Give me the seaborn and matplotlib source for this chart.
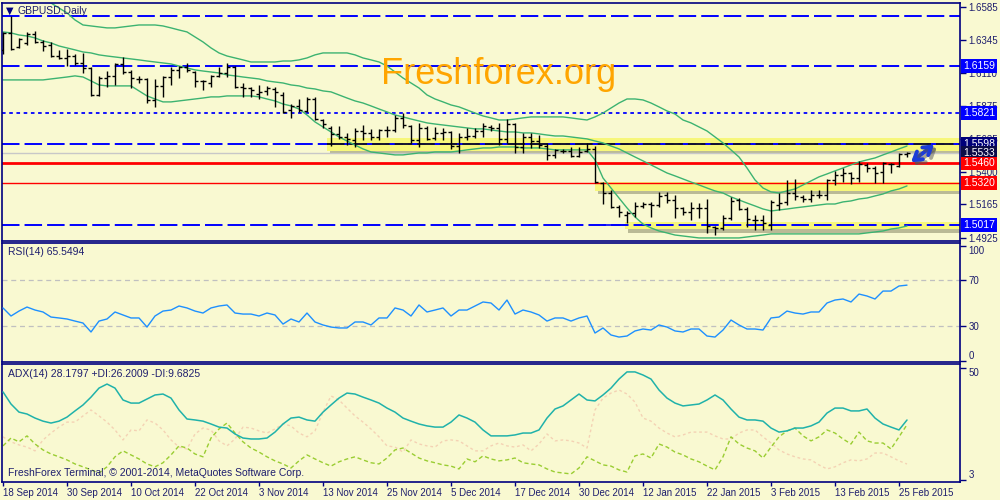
import numpy as np
import matplotlib
matplotlib.use("Agg")
import matplotlib.pyplot as plt
import seaborn as sns
from matplotlib.patches import Rectangle
import matplotlib.patheffects as pe

# ---------------- data ----------------
date_labels = ["18 Sep 2014", "30 Sep 2014", "10 Oct 2014", "22 Oct 2014", "3 Nov 2014",
               "13 Nov 2014", "25 Nov 2014", "5 Dec 2014", "17 Dec 2014", "30 Dec 2014",
               "12 Jan 2015", "22 Jan 2015", "3 Feb 2015", "13 Feb 2015", "25 Feb 2015"]

open_ = [1.6276, 1.6397, 1.6297, 1.6325, 1.6390, 1.6333, 1.6311, 1.6233, 1.6218, 1.6233,
         1.6182, 1.6146, 1.5952, 1.6074, 1.6089, 1.6175, 1.6118, 1.6067, 1.6067, 1.5916,
         1.6017, 1.6082, 1.6132, 1.6154, 1.6118, 1.6053, 1.6038, 1.6089, 1.6110, 1.6154,
         1.6010, 1.6002, 1.5959, 1.5981, 1.5995, 1.5952, 1.5844, 1.5873, 1.5837, 1.5923,
         1.5772, 1.5714, 1.5671, 1.5650, 1.5628, 1.5693, 1.5678, 1.5650, 1.5700, 1.5700,
         1.5786, 1.5729, 1.5628, 1.5714, 1.5642, 1.5678, 1.5685, 1.5585, 1.5650, 1.5657,
         1.5693, 1.5722, 1.5714, 1.5635, 1.5743, 1.5578, 1.5650, 1.5621, 1.5585, 1.5521,
         1.5549, 1.5549, 1.5514, 1.5549, 1.5564, 1.5319, 1.5247, 1.5147, 1.5089, 1.5103,
         1.5154, 1.5168, 1.5161, 1.5233, 1.5197, 1.5140, 1.5111, 1.5140, 1.5140, 1.5003,
         1.4996, 1.5067, 1.5197, 1.5132, 1.5053, 1.5053, 1.5017, 1.5161, 1.5183, 1.5247,
         1.5219, 1.5204, 1.5233, 1.5233, 1.5341, 1.5377, 1.5391, 1.5355, 1.5449, 1.5427,
         1.5398, 1.5456, 1.5442, 1.5528]
high = [1.6405, 1.6520, 1.6361, 1.6405, 1.6412, 1.6347, 1.6333, 1.6276, 1.6283, 1.6247,
        1.6254, 1.6154, 1.6089, 1.6125, 1.6182, 1.6226, 1.6132, 1.6089, 1.6074, 1.6067,
        1.6089, 1.6154, 1.6161, 1.6182, 1.6125, 1.6060, 1.6096, 1.6154, 1.6182, 1.6161,
        1.6038, 1.6010, 1.6024, 1.6017, 1.6010, 1.5974, 1.5887, 1.5923, 1.5938, 1.5938,
        1.5779, 1.5729, 1.5729, 1.5678, 1.5714, 1.5736, 1.5707, 1.5707, 1.5729, 1.5808,
        1.5822, 1.5736, 1.5750, 1.5729, 1.5722, 1.5714, 1.5693, 1.5678, 1.5714, 1.5714,
        1.5750, 1.5736, 1.5750, 1.5779, 1.5750, 1.5678, 1.5678, 1.5664, 1.5607, 1.5564,
        1.5564, 1.5578, 1.5578, 1.5607, 1.5585, 1.5326, 1.5269, 1.5161, 1.5118, 1.5183,
        1.5183, 1.5183, 1.5255, 1.5255, 1.5233, 1.5147, 1.5183, 1.5175, 1.5204, 1.5010,
        1.5089, 1.5219, 1.5211, 1.5147, 1.5089, 1.5089, 1.5197, 1.5247, 1.5341, 1.5348,
        1.5233, 1.5269, 1.5269, 1.5348, 1.5406, 1.5427, 1.5398, 1.5478, 1.5463, 1.5442,
        1.5470, 1.5463, 1.5535, 1.5542]
low = [1.6247, 1.6276, 1.6290, 1.6311, 1.6325, 1.6269, 1.6226, 1.6211, 1.6161, 1.6168,
       1.6110, 1.5945, 1.5945, 1.6010, 1.6024, 1.6103, 1.6002, 1.6038, 1.5894, 1.5866,
       1.5938, 1.6024, 1.6074, 1.6118, 1.6010, 1.5988, 1.6010, 1.6082, 1.6082, 1.6002,
       1.5938, 1.5938, 1.5923, 1.5952, 1.5866, 1.5822, 1.5786, 1.5830, 1.5830, 1.5772,
       1.5714, 1.5585, 1.5635, 1.5592, 1.5578, 1.5628, 1.5628, 1.5628, 1.5650, 1.5685,
       1.5714, 1.5607, 1.5578, 1.5628, 1.5628, 1.5628, 1.5564, 1.5535, 1.5628, 1.5642,
       1.5650, 1.5693, 1.5592, 1.5607, 1.5535, 1.5535, 1.5571, 1.5571, 1.5485, 1.5499,
       1.5535, 1.5506, 1.5506, 1.5542, 1.5319, 1.5168, 1.5140, 1.5075, 1.5032, 1.5075,
       1.5140, 1.5075, 1.5147, 1.5175, 1.5067, 1.5089, 1.5053, 1.5067, 1.4960, 1.4945,
       1.4981, 1.5053, 1.5125, 1.5003, 1.4981, 1.4981, 1.4981, 1.5125, 1.5161, 1.5197,
       1.5183, 1.5183, 1.5211, 1.5197, 1.5305, 1.5326, 1.5312, 1.5326, 1.5398, 1.5319,
       1.5319, 1.5391, 1.5434, 1.5506]
close = [1.6397, 1.6283, 1.6354, 1.6390, 1.6333, 1.6304, 1.6233, 1.6218, 1.6233, 1.6182,
         1.6146, 1.5952, 1.6074, 1.6089, 1.6175, 1.6118, 1.6074, 1.6067, 1.5916, 1.6017,
         1.6082, 1.6132, 1.6154, 1.6132, 1.6053, 1.6053, 1.6089, 1.6110, 1.6154, 1.6010,
         1.6002, 1.5988, 1.5974, 1.6002, 1.5974, 1.5830, 1.5873, 1.5844, 1.5923, 1.5779,
         1.5743, 1.5671, 1.5650, 1.5635, 1.5693, 1.5678, 1.5650, 1.5700, 1.5700, 1.5786,
         1.5736, 1.5628, 1.5714, 1.5635, 1.5678, 1.5685, 1.5585, 1.5650, 1.5657, 1.5693,
         1.5729, 1.5714, 1.5635, 1.5743, 1.5578, 1.5650, 1.5621, 1.5592, 1.5521, 1.5557,
         1.5549, 1.5514, 1.5542, 1.5564, 1.5326, 1.5247, 1.5147, 1.5111, 1.5103, 1.5154,
         1.5168, 1.5161, 1.5226, 1.5197, 1.5140, 1.5111, 1.5140, 1.5140, 1.5010, 1.4996,
         1.5067, 1.5190, 1.5132, 1.5060, 1.5053, 1.5032, 1.5183, 1.5175, 1.5247, 1.5226,
         1.5204, 1.5233, 1.5233, 1.5341, 1.5377, 1.5391, 1.5355, 1.5456, 1.5427, 1.5391,
         1.5463, 1.5456, 1.5528, 1.5533]

bb_upper = [1.6815, 1.6786, 1.6750, 1.6721, 1.6685, 1.6649, 1.6613, 1.6577, 1.6542, 1.6491,
            1.6455, 1.6448, 1.6441, 1.6434, 1.6434, 1.6441, 1.6448, 1.6455, 1.6455, 1.6455,
            1.6448, 1.6434, 1.6419, 1.6405, 1.6369, 1.6333, 1.6290, 1.6254, 1.6232, 1.6218,
            1.6204, 1.6189, 1.6189, 1.6189, 1.6189, 1.6196, 1.6196, 1.6204, 1.6218, 1.6240,
            1.6254, 1.6254, 1.6254, 1.6254, 1.6240, 1.6218, 1.6204, 1.6189, 1.6160, 1.6117,
            1.6074, 1.6038, 1.6002, 1.5952, 1.5923, 1.5902, 1.5880, 1.5866, 1.5844, 1.5822,
            1.5801, 1.5787, 1.5772, 1.5772, 1.5779, 1.5787, 1.5794, 1.5794, 1.5794, 1.5794,
            1.5794, 1.5787, 1.5779, 1.5772, 1.5794, 1.5822, 1.5858, 1.5894, 1.5923, 1.5923,
            1.5916, 1.5894, 1.5866, 1.5837, 1.5815, 1.5772, 1.5751, 1.5722, 1.5693, 1.5650,
            1.5607, 1.5557, 1.5506, 1.5427, 1.5341, 1.5283, 1.5255, 1.5247, 1.5262, 1.5276,
            1.5305, 1.5334, 1.5363, 1.5384, 1.5406, 1.5427, 1.5449, 1.5470, 1.5485, 1.5499,
            1.5521, 1.5542, 1.5564, 1.5585]
bb_mid = [1.6405, 1.6398, 1.6383, 1.6376, 1.6362, 1.6340, 1.6326, 1.6304, 1.6290, 1.6276,
          1.6261, 1.6254, 1.6240, 1.6232, 1.6225, 1.6218, 1.6211, 1.6204, 1.6196, 1.6189,
          1.6182, 1.6175, 1.6160, 1.6146, 1.6132, 1.6124, 1.6117, 1.6110, 1.6096, 1.6089,
          1.6081, 1.6074, 1.6067, 1.6053, 1.6045, 1.6038, 1.6024, 1.6017, 1.6002, 1.5995,
          1.5981, 1.5974, 1.5952, 1.5930, 1.5909, 1.5894, 1.5873, 1.5851, 1.5830, 1.5808,
          1.5794, 1.5779, 1.5765, 1.5751, 1.5743, 1.5736, 1.5729, 1.5722, 1.5715, 1.5708,
          1.5708, 1.5700, 1.5693, 1.5686, 1.5686, 1.5679, 1.5679, 1.5672, 1.5664, 1.5657,
          1.5657, 1.5650, 1.5643, 1.5636, 1.5621, 1.5607, 1.5585, 1.5564, 1.5535, 1.5506,
          1.5478, 1.5449, 1.5420, 1.5391, 1.5370, 1.5348, 1.5326, 1.5305, 1.5283, 1.5262,
          1.5247, 1.5219, 1.5197, 1.5175, 1.5154, 1.5132, 1.5118, 1.5125, 1.5132, 1.5140,
          1.5147, 1.5154, 1.5161, 1.5168, 1.5168, 1.5183, 1.5190, 1.5204, 1.5211, 1.5226,
          1.5240, 1.5262, 1.5276, 1.5298]
bb_lower = [1.6060, 1.6060, 1.6060, 1.6060, 1.6060, 1.6060, 1.6067, 1.6074, 1.6081, 1.6089,
            1.6081, 1.6053, 1.6024, 1.6017, 1.6017, 1.6017, 1.6017, 1.5981, 1.5945, 1.5923,
            1.5902, 1.5902, 1.5909, 1.5916, 1.5923, 1.5930, 1.5938, 1.5938, 1.5945, 1.5945,
            1.5945, 1.5945, 1.5938, 1.5923, 1.5909, 1.5887, 1.5873, 1.5851, 1.5808, 1.5758,
            1.5722, 1.5686, 1.5650, 1.5621, 1.5592, 1.5564, 1.5542, 1.5535, 1.5528, 1.5521,
            1.5521, 1.5528, 1.5535, 1.5535, 1.5542, 1.5542, 1.5542, 1.5549, 1.5557, 1.5564,
            1.5571, 1.5571, 1.5578, 1.5578, 1.5578, 1.5571, 1.5571, 1.5571, 1.5564, 1.5557,
            1.5557, 1.5557, 1.5557, 1.5557, 1.5485, 1.5355, 1.5283, 1.5211, 1.5140, 1.5075,
            1.5024, 1.4996, 1.4974, 1.4960, 1.4945, 1.4938, 1.4931, 1.4924, 1.4924, 1.4924,
            1.4924, 1.4924, 1.4924, 1.4931, 1.4938, 1.4945, 1.4953, 1.4953, 1.4953, 1.4953,
            1.4953, 1.4953, 1.4953, 1.4953, 1.4953, 1.4953, 1.4953, 1.4953, 1.4960, 1.4967,
            1.4974, 1.4988, 1.4996, 1.5010]

rsi = [45.7, 38.7, 43.0, 46.5, 43.9, 42.2, 37.8, 37.0, 36.1, 34.3,
       32.6, 24.8, 34.3, 36.1, 42.2, 39.6, 37.0, 37.0, 29.1, 38.7,
       43.0, 43.9, 47.4, 45.7, 43.0, 41.3, 45.7, 47.4, 48.3, 41.3,
       40.4, 40.4, 38.7, 41.3, 39.6, 31.7, 36.1, 33.5, 41.3, 33.5,
       30.9, 29.1, 28.3, 28.3, 33.5, 33.5, 30.9, 37.0, 37.0, 45.7,
       43.9, 38.7, 48.3, 42.2, 43.9, 45.7, 38.7, 43.9, 43.9, 47.4,
       50.9, 50.0, 43.9, 52.6, 40.4, 43.9, 42.2, 39.6, 34.3, 37.0,
       37.0, 34.3, 37.0, 38.7, 23.9, 28.3, 22.2, 20.4, 21.3, 25.7,
       27.4, 26.5, 30.9, 29.1, 25.7, 24.8, 27.4, 27.4, 21.3, 20.4,
       26.5, 35.2, 30.9, 27.4, 27.4, 26.5, 37.0, 37.8, 43.0, 41.3,
       40.4, 42.2, 42.2, 50.0, 52.6, 53.5, 50.9, 57.8, 56.1, 53.5,
       60.4, 60.4, 64.8, 65.55]

adx = [40.0, 34.9, 31.5, 30.7, 29.0, 27.7, 26.9, 27.7, 29.4, 32.0,
       34.5, 37.8, 41.6, 43.3, 41.6, 36.6, 35.3, 35.3, 37.0, 38.7,
       39.1, 37.4, 32.4, 28.6, 28.2, 27.7, 26.5, 25.2, 24.8, 22.3,
       20.6, 20.2, 20.2, 20.6, 23.1, 26.5, 29.0, 29.4, 28.2, 27.7,
       31.5, 34.5, 37.4, 39.5, 39.1, 37.8, 36.6, 35.3, 33.2, 31.5,
       29.0, 27.7, 26.5, 25.7, 25.2, 25.2, 27.3, 30.3, 29.0, 27.3,
       24.0, 21.5, 21.5, 21.5, 21.9, 22.7, 22.7, 24.0, 29.0, 32.8,
       34.1, 36.6, 39.1, 36.6, 36.2, 38.7, 41.6, 45.4, 48.4, 48.4,
       47.1, 45.4, 40.8, 37.4, 35.3, 34.1, 34.5, 34.9, 36.6, 38.7,
       36.6, 32.8, 29.4, 28.2, 28.2, 27.7, 24.8, 23.1, 23.6, 24.8,
       24.8, 25.7, 27.3, 31.1, 33.2, 33.2, 32.0, 32.0, 32.8, 29.0,
       26.5, 25.2, 24.0, 28.18]
plus_di = [17.3, 20.6, 19.0, 21.5, 18.1, 15.6, 13.9, 12.7, 11.4, 9.7,
           8.5, 7.2, 5.9, 8.5, 12.7, 15.2, 13.5, 11.8, 9.7, 8.5,
           10.2, 13.5, 17.3, 16.4, 13.9, 12.7, 20.6, 24.4, 26.9, 22.7,
           19.0, 16.4, 14.7, 12.7, 11.0, 9.7, 8.0, 11.0, 13.5, 11.8,
           10.2, 8.8, 10.6, 11.8, 12.7, 11.4, 10.2, 9.7, 12.2, 15.6,
           16.4, 14.3, 12.2, 11.0, 10.2, 9.3, 8.8, 7.6, 11.8, 10.6,
           13.1, 11.8, 11.0, 11.4, 12.2, 10.2, 9.7, 9.3, 7.6, 6.3,
           5.9, 5.5, 8.0, 12.7, 11.0, 9.3, 8.8, 7.2, 6.3, 13.1,
           13.9, 12.2, 18.1, 16.8, 14.7, 13.5, 11.8, 10.6, 8.8, 7.2,
           12.7, 21.1, 18.1, 16.4, 15.2, 12.2, 16.8, 21.1, 23.6, 24.8,
           21.5, 19.4, 21.1, 24.0, 22.7, 20.2, 18.1, 23.1, 19.4, 18.5,
           18.5, 16.0, 21.1, 26.2]
minus_di = [21.1, 19.0, 17.7, 16.8, 15.2, 19.8, 22.7, 25.2, 27.3, 27.3,
            29.9, 32.4, 29.9, 27.3, 24.0, 19.8, 24.0, 23.6, 28.2, 26.9,
            24.0, 19.8, 16.8, 16.0, 22.3, 24.8, 24.0, 19.4, 17.3, 20.2,
            25.2, 24.8, 23.6, 22.7, 24.4, 26.5, 25.7, 22.7, 21.1, 23.6,
            31.5, 38.3, 36.6, 33.2, 29.9, 27.3, 24.4, 21.1, 17.3, 16.8,
            14.7, 19.8, 18.1, 17.3, 16.8, 19.4, 19.8, 19.4, 17.3, 15.2,
            15.2, 17.3, 18.5, 17.3, 16.8, 17.7, 15.2, 18.1, 22.3, 19.4,
            19.8, 19.4, 18.5, 16.4, 32.4, 37.4, 39.5, 40.8, 39.1, 35.7,
            29.0, 27.7, 24.8, 22.7, 21.1, 21.9, 23.1, 23.1, 23.1, 21.5,
            20.2, 20.2, 22.7, 24.0, 24.0, 21.1, 18.5, 15.6, 13.9, 12.7,
            11.8, 11.4, 9.3, 7.6, 8.5, 10.2, 11.4, 11.0, 11.8, 14.3,
            14.3, 12.7, 11.0, 9.68]

price_ticks = [1.4925, 1.5165, 1.5400, 1.5635, 1.5875, 1.6110, 1.6345, 1.6585]
level_values = [1.6159, 1.5821, 1.5598, 1.5533, 1.5460, 1.5320, 1.5017]
level_colors = ["#0000FF", "#0000FF", "#00007A", "#0C0C48", "#FF0000", "#FF0000", "#0000FF"]
upper_dash_level = 1.6520
zones = [(1.5646, 1.5549, 40.5), (1.5323, 1.5262, 74), (1.5035, 1.4985, 77.75)]

# ---------------- style ----------------
sns.set_style("ticks")
plt.rcParams["font.family"] = ["Liberation Sans", "DejaVu Sans"]
BG = "#F9F9D1"
NAVY = "#000080"
TXT = "#1E1E6E"

fig = plt.figure(figsize=(10, 5), dpi=100, facecolor=BG)


def px_axes(l, t, r, b):
    return fig.add_axes([l / 1000, 1 - b / 500, (r - l) / 1000, (b - t) / 500])


ax_main = px_axes(2, 3, 960, 241)
ax_rsi = px_axes(2, 243, 960, 362)
ax_adx = px_axes(2, 364, 960, 482)

idx = np.arange(len(close))
XL = (-0.125, 119.625)

for ax in (ax_main, ax_rsi, ax_adx):
    ax.set_facecolor(BG)
    for s in ax.spines.values():
        s.set_color(NAVY)
        s.set_linewidth(1.2)
    ax.yaxis.tick_right()
    ax.tick_params(axis="y", direction="out", length=4, width=1, color=NAVY,
                   labelcolor=TXT, labelsize=7, pad=2)
    ax.set_xlim(*XL)

# ---------------- main panel ----------------
ax = ax_main
dash_long = (0, (9, 2.6))
for top, bot, x0 in zones:
    r = Rectangle((x0, bot), XL[1] - x0 + 2, top - bot, facecolor="#F7F77A",
                  edgecolor="none", zorder=1)
    r.set_path_effects([pe.SimplePatchShadow(offset=(2.5, -2.5), shadow_rgbFace="#6E6E50", alpha=0.45),
                        pe.Normal()])
    ax.add_patch(r)

ax.axhline(upper_dash_level, color="#0000FF", lw=1.4, ls=dash_long, zorder=2)
ax.axhline(level_values[0], color="#0000FF", lw=1.4, ls=dash_long, zorder=2)
ax.axhline(level_values[1], color="#0000FF", lw=1.3, ls=(0, (2, 2)), zorder=2)
ax.axhline(level_values[2], color="#0000FF", lw=1.4, ls=dash_long, zorder=2)
ax.hlines(level_values[2], zones[0][2], XL[1], color="#14142E", lw=1.4, ls=dash_long, zorder=2.1)
ax.axhline(level_values[3], color="#C8C8C8", lw=1.0, zorder=2)
ax.axhline(level_values[4], color="#FF0000", lw=2.0, zorder=2)
ax.axhline(level_values[5], color="#FF0000", lw=1.0, zorder=2)
ax.axhline(level_values[6], color="#0000FF", lw=1.4, ls=dash_long, zorder=2)
ax.hlines(level_values[6], 75, 77.2, color="#0000FF", lw=1.2, zorder=2)

for band in (bb_upper, bb_mid, bb_lower):
    sns.lineplot(x=idx, y=band, ax=ax, color="#3CB371", lw=1.0, zorder=2.5)

ax.vlines(idx, low, high, color="black", lw=1.0, zorder=3)
ax.hlines(open_, idx - 0.38, idx, color="black", lw=1.0, zorder=3)
ax.hlines(close, idx, idx + 0.38, color="black", lw=1.0, zorder=3)

ax.set_ylim(1.4902, 1.6613)
ax.set_yticks(price_ticks)
ax.set_yticklabels([f"{v:.4f}" for v in price_ticks])
ax.set_xticks([])
ax.set_xlabel("")
ax.set_ylabel("")

for v, c in zip(level_values, level_colors):
    ax.text(1.0035, v, f"{v:.4f}", transform=ax.get_yaxis_transform(), color="white",
            fontsize=7.5, va="center", ha="left", clip_on=False, zorder=6,
            bbox=dict(boxstyle="square,pad=0.18", fc=c, ec="none"))

arr = ax.annotate("", xy=(116.4, 1.5596), xytext=(113.5, 1.5468),
                  arrowprops=dict(arrowstyle="<->,head_length=0.55,head_width=0.35",
                                  color="#1C3CD8", lw=2.8, shrinkA=0, shrinkB=0), zorder=6)
arr.arrow_patch.set_path_effects([pe.SimpleLineShadow(offset=(2, -2), shadow_color="#555555", alpha=0.5),
                                  pe.Normal()])

fig.text(0.499, 1 - 75 / 500, "Freshforex.org", color="#FFA500", fontsize=26,
         ha="center", va="center", family=["Liberation Sans", "DejaVu Sans"])
fig.text(0.006, 1 - 11 / 500, "\u25bc", color=NAVY, fontsize=7, ha="left", va="center",
         family=["DejaVu Sans"])
fig.text(0.018, 1 - 11 / 500, "GBPUSD,Daily", color=TXT, fontsize=7.5, ha="left", va="center")

# ---------------- RSI panel ----------------
ax = ax_rsi
ax.axhline(70, color="#C0C0C0", lw=0.9, ls=(0, (4, 3)), zorder=1)
ax.axhline(30, color="#C0C0C0", lw=0.9, ls=(0, (4, 3)), zorder=1)
sns.lineplot(x=idx, y=rsi, ax=ax, color="#1E90FF", lw=1.0, zorder=3)
ax.set_ylim(-1.3, 102.2)
ax.set_yticks([0, 30, 70, 100])
ax.set_yticklabels(["0", "30", "70", "100"])
rl = ax.get_yticklabels()
rl[0].set_va("bottom")
rl[-1].set_va("top")
ax.set_xticks([])
ax.set_xlabel("")
ax.set_ylabel("")
fig.text(0.008, 1 - 252 / 500, "RSI(14) 65.5494", color=TXT, fontsize=7.5, ha="left", va="center")

# ---------------- ADX panel ----------------
ax = ax_adx
sns.lineplot(x=idx, y=minus_di, ax=ax, color="#F4D2B4", lw=1.0, linestyle=(0, (2, 2)), zorder=2)
sns.lineplot(x=idx, y=plus_di, ax=ax, color="#9ACD32", lw=1.0, linestyle=(0, (3, 2)), zorder=2.5)
sns.lineplot(x=idx, y=adx, ax=ax, color="#20B2AA", lw=1.1, zorder=3)
ax.set_ylim(2.11, 51.73)
ax.set_yticks([3, 50])
ax.set_yticklabels(["3", "50"])
al = ax.get_yticklabels()
al[0].set_va("bottom")
al[-1].set_va("top")
ax.set_xticks(idx[::8])
ax.set_xticklabels(date_labels)
ax.tick_params(axis="x", direction="out", length=3, width=1, color=NAVY,
               labelcolor=TXT, labelsize=7, pad=1)
for lbl in ax.get_xticklabels():
    lbl.set_ha("left")
ax.set_xlabel("")
ax.set_ylabel("")
fig.text(0.008, 1 - 374 / 500, "ADX(14) 28.1797 +DI:26.2009 -DI:9.6825", color=TXT,
         fontsize=7.5, ha="left", va="center")
fig.text(0.008, 1 - 473 / 500, "FreshForex Terminal, \u00a9 2001-2014, MetaQuotes Software Corp.",
         color=TXT, fontsize=7.5, ha="left", va="center")

fig.savefig("out.png", dpi=100, facecolor=BG)
